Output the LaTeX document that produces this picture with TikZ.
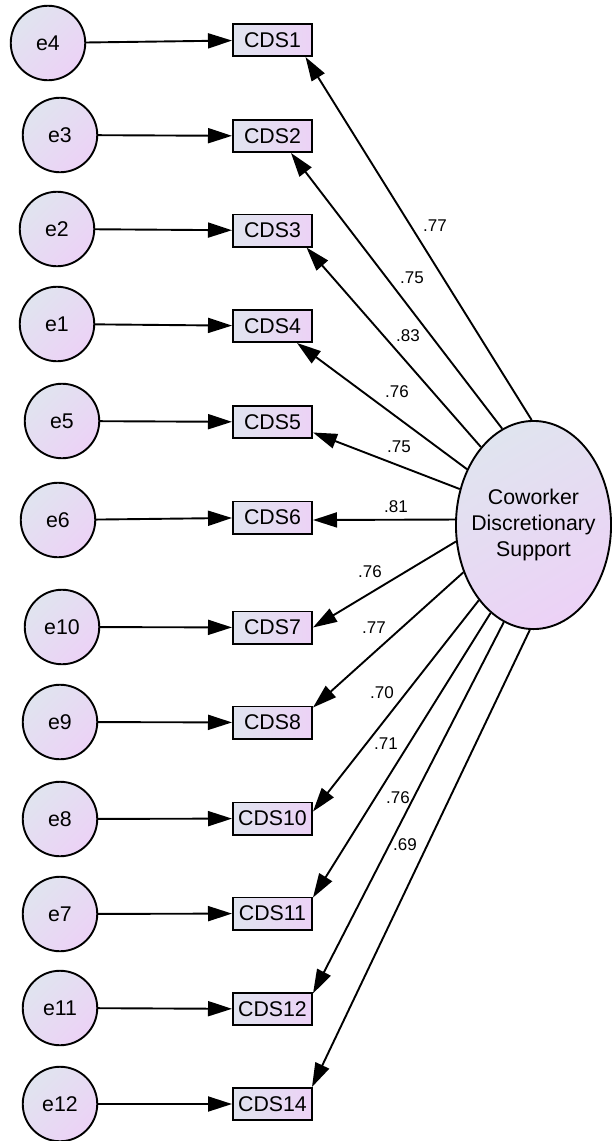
\documentclass[tikz,border=0pt]{standalone}
\usepackage{fontspec}
\setmainfont{Liberation Sans}
\usetikzlibrary{arrows.meta}
\usetikzlibrary{shapes.geometric}
\definecolor{shadeA}{RGB}{224,228,239}
\definecolor{shadeB}{RGB}{236,210,246}

\tikzset{
  errc/.style={circle, draw, line width=1.9pt, minimum size=74.5pt, inner sep=0pt,
    top color=shadeA, bottom color=shadeB, shading angle=45},
  obs/.style={rectangle, draw, line width=1.9pt, minimum width=79.1pt,
    minimum height=32.1pt, inner sep=0pt, left color=shadeA, right color=shadeB},
  pth/.style={line width=1.9pt, -{Triangle[length=24pt,width=15pt]}},
  ld/.style={font=\fontsize{17}{20}\selectfont}
}

\begin{document}
\begin{tikzpicture}[x=1pt,y=-1pt,font=\fontsize{21.3}{26}\selectfont]
  \useasboundingbox (0,0) rectangle (612,1141);
  \node[ellipse, draw, line width=1.9pt, minimum width=155.1pt, minimum height=208.1pt,
    top color=shadeA, bottom color=shadeB, shading angle=30] (F) at (533.5,525) {};
  \node[align=center] (Ftext) at (F.center) {Coworker\\Discretionary\\Support};
  % items with their errors
  \foreach \e/\ex/\ey/\b/\by in {e4/48/43/CDS1/40, e3/60/135/CDS2/136,
      e2/57/229/CDS3/230.5, e1/57/324/CDS4/326, e5/62/421/CDS5/422,
      e6/58/520/CDS6/517.5, e10/62/627/CDS7/627.5, e9/60/722/CDS8/722.5,
      e8/60/819/CDS10/818.5, e7/60/914/CDS11/913.5, e11/60/1008/CDS12/1009,
      e12/60/1104/CDS14/1104}{
    \node[errc] (\e) at (\ex,\ey) {\e};
    \node[obs] (\b) at (272.5,\by) {\b};
    \draw[pth] (\e) -- (\b);
  }
  % loadings
  \foreach \b/\ang/\anc/\dx/\dy/\val/\lx/\ly in {
      CDS1/91/south east/-7.5/0/.77/435/226,
      CDS2/108/south east/-22/0/.75/412/278,
      CDS3/124/south east/-6.5/0/.83/408/336,
      CDS4/140/south east/-16/0/.76/397/392,
      CDS5/154/south east/0/6.5/.75/399/447,
      CDS6/176.3/east/0/-2.5/.81/396/507,
      CDS7/192/east/0/0/.76/370/572,
      CDS8/214/north east/0/-2/.77/374/628,
      CDS10/234.5/north east/0/-10/.70/382/693,
      CDS11/244.5/north east/0/-1/.71/386/744,
      CDS12/253/north east/0/-1.5/.76/398/798,
      CDS14/268/north east/-1/0/.69/405/845}{
    \draw[pth] (F.\ang) -- ([xshift=\dx pt,yshift=\dy pt]\b.\anc);
    \node[ld] (l\b) at (\lx,\ly) {\val};
  }
\end{tikzpicture}
\end{document}
